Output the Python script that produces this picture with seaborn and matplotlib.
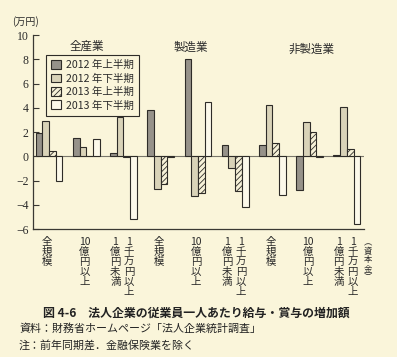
import matplotlib
matplotlib.use("Agg")
import matplotlib.pyplot as plt
import matplotlib.transforms as mtransforms
import seaborn as sns
import pandas as pd

# ---- data ----
industries = ['全産業', '製造業', '非製造業']
size_cols = [['全規模'], ['10億円以上'], ['1千万円以上', '1億円未満']]
periods = ['2012 年上半期', '2012 年下半期', '2013 年上半期', '2013 年下半期']
h2012a = [1.9, 1.5, 0.3, 3.8, 8.0, 0.9, 0.9, -2.8, 0.08]
h2012b = [2.9, 0.75, 3.2, -2.7, -3.3, -1.0, 4.2, 2.85, 4.1]
h2013a = [0.4, 0.0, -0.1, -2.3, -3.0, -2.9, 1.1, 2.0, 0.6]
h2013b = [-2.0, 1.45, -5.2, -0.1, 4.5, -4.2, -3.2, -0.1, -5.6]
yticks = [-6, -4, -2, 0, 2, 4, 6, 8, 10]
unit_label = '(万円)'
capital_label = '︵\n資\n本\n金\n︶'
caption = '図 4-6　法人企業の従業員一人あたり給与・賞与の増加額'
source = '資料：財務省ホームページ「法人企業統計調査」'
note = '注：前年同期差．金融保険業を除く'

BG = '#faf5da'
EDGE = '#2e2c28'
colors = ['#96928a', '#d9d3b8', '#f6f1d8', '#fcf9ea']

keys = [f'{ind}|{i}' for ind in industries for i in range(len(size_cols))]
rows = []
for p, vals in zip(periods, [h2012a, h2012b, h2013a, h2013b]):
    for k, v in zip(keys, vals):
        rows.append({'group': k, 'period': p, 'value': v})
df = pd.DataFrame(rows)

sns.set_theme(style='white')
plt.rcParams['font.family'] = ['Noto Sans CJK JP', 'DejaVu Sans']
plt.rcParams['hatch.linewidth'] = 0.6
plt.rcParams['hatch.color'] = EDGE

fig = plt.figure(figsize=(3.97, 3.57), dpi=100, facecolor=BG)
ax = fig.add_axes([33 / 397, 128 / 357, 331 / 397, 194 / 357])
ax.set_facecolor(BG)

sns.barplot(data=df, x='group', y='value', hue='period', order=keys,
            hue_order=periods, palette=colors, width=0.72,
            edgecolor=EDGE, linewidth=0.8, saturation=1, ax=ax)

for bar in ax.containers[2]:
    bar.set_hatch('//////')

ax.axhline(0, color='#7a776c', lw=0.8, zorder=0.5)
ax.set_ylim(-6, 10)
ax.set_xlim(-0.43, len(keys) - 1 + 0.46)
ax.set_xlabel('')
ax.set_ylabel('')

for s in ['top', 'right']:
    ax.spines[s].set_visible(False)
for s in ['left', 'bottom']:
    ax.spines[s].set_color('#3a3833')
    ax.spines[s].set_linewidth(0.9)

ax.set_yticks(yticks)
ax.set_yticklabels([('−' + str(-t)) if t < 0 else str(t) for t in yticks],
                   family='Liberation Serif', fontsize=8.5, color='#2a2a2a')
ax.tick_params(axis='y', direction='in', length=4, width=0.8, color='#3a3833', pad=3, left=True)
ax.set_xticks(range(len(keys)))
ax.set_xticklabels([''] * len(keys))
ax.tick_params(axis='x', length=0)

# legend
leg = ax.legend(loc='upper left', bbox_to_anchor=(0.039, 0.898), borderaxespad=0,
                fontsize=7.6, frameon=True, fancybox=False, handlelength=0.9,
                handleheight=0.9, handletextpad=0.5, labelspacing=0.3,
                borderpad=0.5, title=None)
leg.get_frame().set_edgecolor('#2e2c28')
leg.get_frame().set_linewidth(0.8)
leg.get_frame().set_facecolor(BG)
leg.get_frame().set_alpha(1)
for h in leg.legend_handles:
    h.set_edgecolor(EDGE)
leg.legend_handles[2].set_hatch('//////')
for t in leg.get_texts():
    t.set_color('#2a2a2a')

# group titles
title_pos = [(1.02, 9.1), (3.8, 9.0), (7.05, 8.85)]
for name, (xp, yp) in zip(industries, title_pos):
    ax.text(xp, yp, name, ha='center', va='center', fontsize=8.3, color='#2a2a2a')

ax.text(-0.022, 1.067, unit_label, transform=ax.transAxes, ha='center', va='center',
        fontsize=7.2, color='#2a2a2a')


def vertical(s):
    out = []
    buf = ''
    for ch in s:
        if ch.isascii() and ch.isdigit():
            buf += ch
        else:
            if buf:
                out.append(buf)
                buf = ''
            out.append(ch)
    if buf:
        out.append(buf)
    return '\n'.join(out)


trans = mtransforms.blended_transform_factory(ax.transData, ax.transAxes)
label_top = -8 / 194
for gi in range(len(industries)):
    for si, cols in enumerate(size_cols):
        xc = gi * len(size_cols) + si
        if len(cols) == 1:
            offs = [-0.05]
        else:
            offs = [0.15, -0.22]
        for col, off in zip(cols, offs):
            ax.text(xc + off, label_top, vertical(col), transform=trans,
                    ha='center', va='top', fontsize=7.5, linespacing=1.0,
                    color='#2a2a2a', multialignment='center')

ax.text(8.56, -9 / 194, capital_label, transform=trans, ha='center', va='top',
        fontsize=6.0, linespacing=0.95, color='#2a2a2a')

fig.text(43 / 397, 1 - 313 / 357, caption, ha='left', va='center',
         fontsize=8.6, fontweight='bold', color='#222222')
fig.text(19 / 397, 1 - 329 / 357, source, ha='left', va='center',
         fontsize=7.9, color='#222222')
fig.text(19 / 397, 1 - 345 / 357, note, ha='left', va='center',
         fontsize=7.9, color='#222222')

fig.savefig('out.png', dpi=100, facecolor=BG)
